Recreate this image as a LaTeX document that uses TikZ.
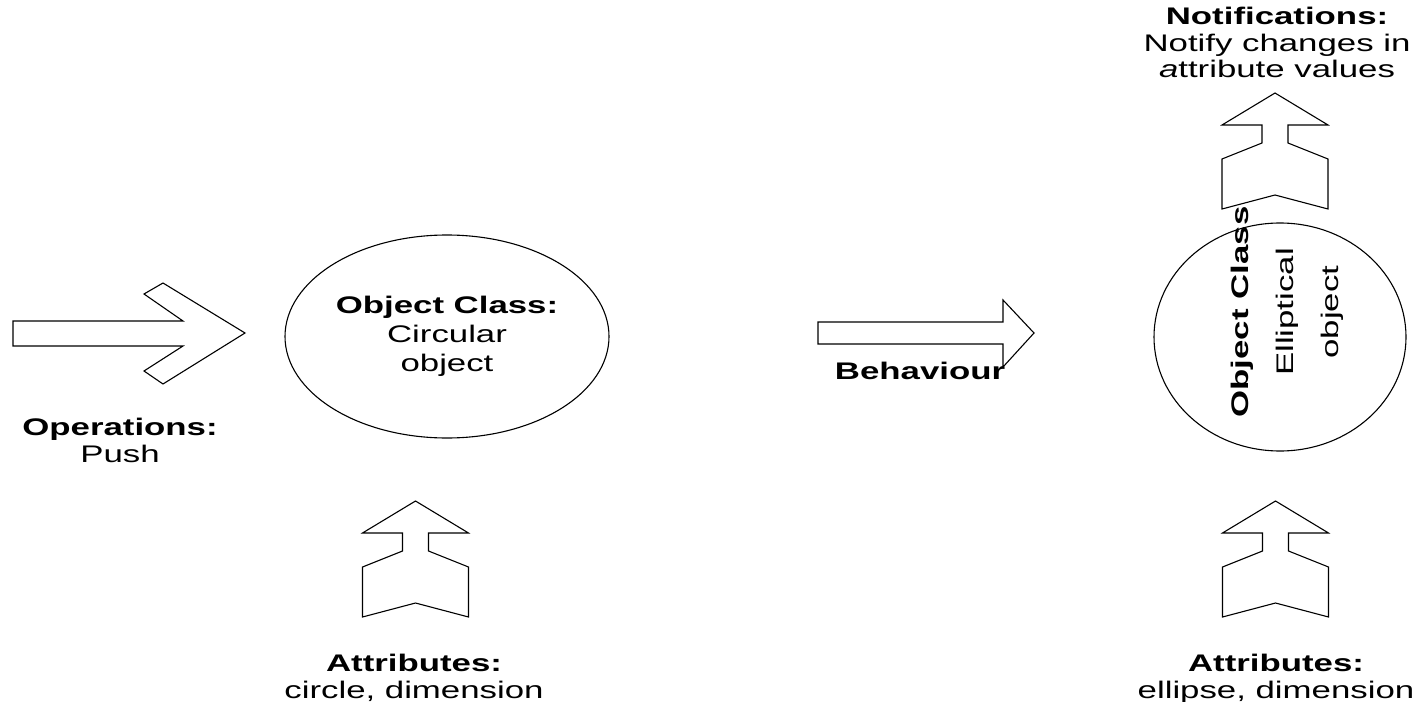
\documentclass[tikz,border=0pt]{standalone}
\usepackage{fontspec}
\setmainfont{Liberation Sans}[FakeStretch=1.45]
\usetikzlibrary{shapes.geometric}

\tikzset{
  outline/.style={draw=black, line width=0.55pt, line join=miter, fill=white},
  lbl/.style={inner sep=0pt, align=center, anchor=base, font=\fontsize{12}{13.25}\selectfont},
  classbody/.style={draw=black, line width=0.55pt, ellipse, inner sep=0pt,
    align=center, font=\fontsize{12}{14.5}\selectfont},
  pics/hollowup/.style={code={
    \draw[outline] (0,0) -- (53,32) -- (13,32) -- (13,50) -- (53,66) -- (53,116)
      -- (0,102) -- (-53,116) -- (-53,66) -- (-13,50) -- (-13,32) -- (-53,32) -- cycle;
  }}
}

\begin{document}
\begin{tikzpicture}[x=0.5pt, y=-0.5pt]
  \useasboundingbox (0,0) rectangle (1418,701);

  % operation arrow pointing at the first class
  \draw[outline] (13,321) -- (183,321) -- (144,294) -- (163,283) -- (245,333)
    -- (163,384) -- (144,371) -- (183,346) -- (13,346) -- cycle;
  % (multi-line labels sit on the baseline of their last line)
  \node[lbl] (ops) at (120,462) {\textbf{Operations:}\\Push};

  % first object class
  \node[classbody, minimum width=162pt, minimum height=101.5pt] (circ) at (447,336.5)
    {\textbf{Object Class:}\\Circular\\object};

  % attributes feeding the first class
  \pic at (415.5,501) {hollowup};
  \node[lbl] (attr1) at (414,698) {\textbf{Attributes:}\\circle, dimension};

  % behaviour arrow
  \draw[outline] (818,322) -- (1003,322) -- (1003,300) -- (1034,333) -- (1003,367)
    -- (1003,344) -- (818,344) -- cycle;
  \node[lbl] (behav) at (920,379) {\textbf{Behaviour}};

  % second object class
  \node[draw=black, line width=0.55pt, ellipse, inner sep=0pt,
    minimum width=126pt, minimum height=114pt] (ell) at (1280,337) {};
  \node[inner sep=0pt, align=center, rotate=90,
    font=\fontsize{12}{22.5}\selectfont] (elltxt) at (1287,312)
    {\textbf{Object Class}\\Elliptical\\object};

  % notifications out of the second class
  \pic at (1275,93) {hollowup};
  \node[lbl] (notif) at (1277,78)
    {\textbf{Notifications:}\\Notify changes in\\\textit{a}ttribute values};

  % attributes feeding the second class
  \pic at (1275.5,501) {hollowup};
  \node[lbl] (attr2) at (1276,698) {\textbf{Attributes:}\\ellipse, dimension};
\end{tikzpicture}
\end{document}
